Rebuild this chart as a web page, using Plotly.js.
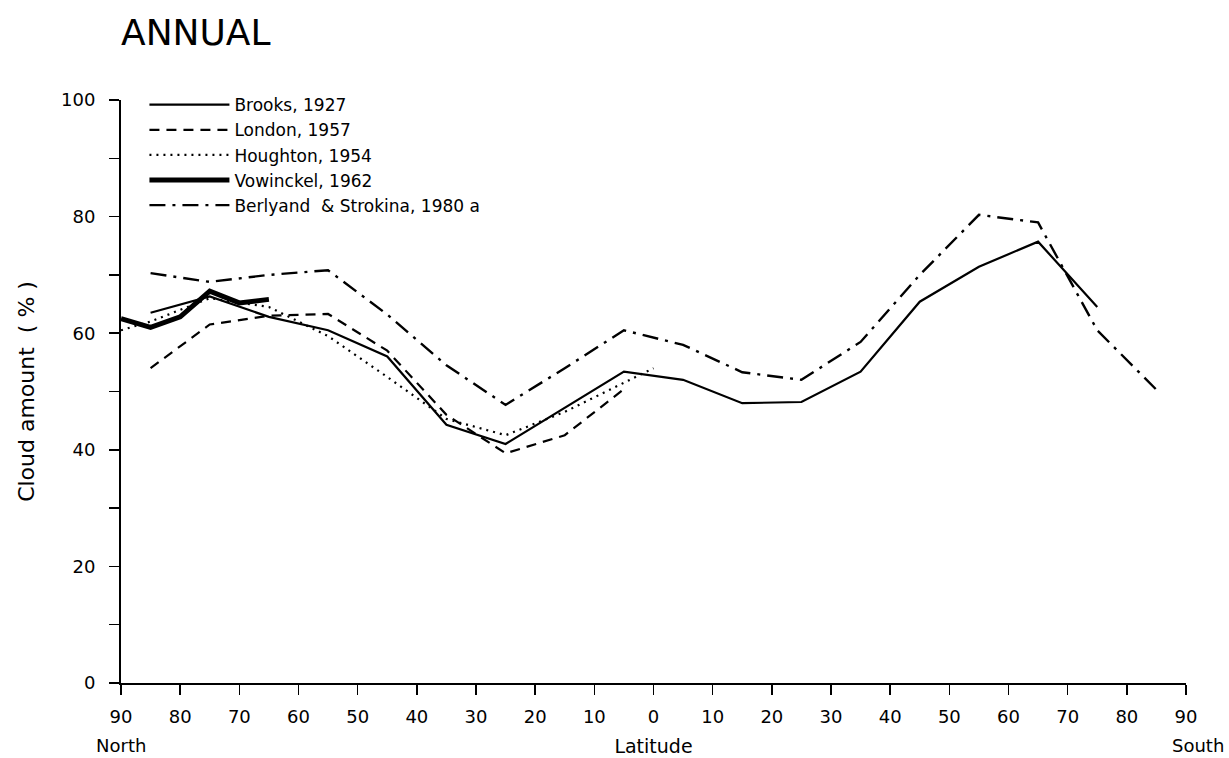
<!DOCTYPE html>
<html>
<head>
<meta charset="utf-8">
<script src="https://cdn.plot.ly/plotly-3.0.1.min.js"></script>
<style>html,body{margin:0;padding:0;background:#fff;}#chart{width:1229px;height:758px;}</style>
</head>
<body>
<div id="chart"></div>
<script>
// Latitude: positive = North, negative = South
const brooksLat = [85,75,65,55,45,35,25,15,5,-5,-15,-25,-35,-45,-55,-65,-75];
const brooksVal = [63.5,66.3,62.8,60.5,56,44.3,41,47.2,53.4,52,48,48.2,53.4,65.4,71.4,75.7,64.5];

const londonLat = [85,75,65,55,45,35,25,15,5];
const londonVal = [54,61.5,63,63.3,57,46,39.4,42.5,50.4];

const houghtonLat = [90,85,75,65,55,45,35,25,15,5,0];
const houghtonVal = [60.5,62,66,64.5,59.5,52.5,45.3,42.5,46.5,51.5,54];

const vowinckelLat = [90,85,80,75,70,65];
const vowinckelVal = [62.5,61,62.8,67.2,65.2,65.8];

const berlyandLat = [85,75,65,55,45,35,25,15,5,-5,-15,-25,-35,-45,-55,-65,-75,-85];
const berlyandVal = [70.3,68.8,70,70.8,63.2,54.5,47.7,54,60.5,58,53.3,52,58.5,70,80.3,79,60.5,50.3];

const xTickVals = [90,80,70,60,50,40,30,20,10,0,-10,-20,-30,-40,-50,-60,-70,-80,-90];
const xTickText = ['90','80','70','60','50','40','30','20','10','0','10','20','30','40','50','60','70','80','90'];
const yTickVals = [0,10,20,30,40,50,60,70,80,90,100];
const yTickText = ['0','','20','','40','','60','','80','','100'];

const FONT = 'DejaVu Sans, sans-serif';

const traces = [
  {x: brooksLat, y: brooksVal, name: 'Brooks, 1927', mode: 'lines',
   line: {color: '#000', width: 2.2}},
  {x: londonLat, y: londonVal, name: 'London, 1957', mode: 'lines',
   line: {color: '#000', width: 2.2, dash: '10px,7px'}},
  {x: houghtonLat, y: houghtonVal, name: 'Houghton, 1954', mode: 'lines',
   line: {color: '#000', width: 2.2, dash: '2px,5px'}},
  {x: vowinckelLat, y: vowinckelVal, name: 'Vowinckel, 1962', mode: 'lines',
   line: {color: '#000', width: 5}},
  {x: berlyandLat, y: berlyandVal, name: 'Berlyand  & Strokina, 1980 a', mode: 'lines',
   line: {color: '#000', width: 2.4, dash: '16px,7px,3px,7px'}}
];

const layout = {
  width: 1229, height: 758,
  paper_bgcolor: '#fff', plot_bgcolor: '#fff',
  margin: {l: 121, r: 43, t: 100, b: 75},
  showlegend: true,
  font: {family: FONT, color: '#000', size: 17},
  title: {text: 'ANNUAL', xref: 'container', x: 121/1229, xanchor: 'left',
          yref: 'container', y: 1 - 32/758, yanchor: 'middle',
          font: {family: FONT, size: 36, color: '#000'}},
  xaxis: {
    range: [90, -90], tickvals: xTickVals, ticktext: xTickText,
    showgrid: false, zeroline: false, showline: true, linecolor: '#000', linewidth: 2,
    ticks: 'outside', ticklen: 10, tickwidth: 1.5, tickcolor: '#000',
    ticklabelstandoff: 6,
    tickfont: {family: FONT, size: 18},
    title: {text: 'Latitude', font: {family: FONT, size: 19}, standoff: 14}
  },
  yaxis: {
    range: [0, 100], tickvals: yTickVals, ticktext: yTickText,
    showgrid: false, zeroline: false, showline: true, linecolor: '#000', linewidth: 2,
    ticks: 'outside', ticklen: 10, tickwidth: 1.5, tickcolor: '#000',
    ticklabelstandoff: 10,
    tickfont: {family: FONT, size: 18},
    title: {text: 'Cloud amount  ( % )', font: {family: FONT, size: 22}, standoff: 20}
  },
  legend: {
    x: 0.022, y: 1.022, xanchor: 'left', yanchor: 'top',
    bgcolor: 'rgba(0,0,0,0)', borderwidth: 0,
    font: {family: FONT, size: 17}, itemwidth: 80, tracegroupgap: 0
  },
  annotations: [
    {text: 'North', xref: 'paper', yref: 'paper', x: 0, y: 0, yshift: -62,
     xanchor: 'center', yanchor: 'middle', showarrow: false, font: {family: FONT, size: 18}},
    {text: 'South', xref: 'paper', yref: 'paper', x: 1, y: 0, yshift: -62, xshift: 40,
     xanchor: 'right', yanchor: 'middle', showarrow: false, font: {family: FONT, size: 18}}
  ]
};

Plotly.newPlot('chart', traces, layout, {displayModeBar: false, staticPlot: true});
</script>
</body>
</html>
